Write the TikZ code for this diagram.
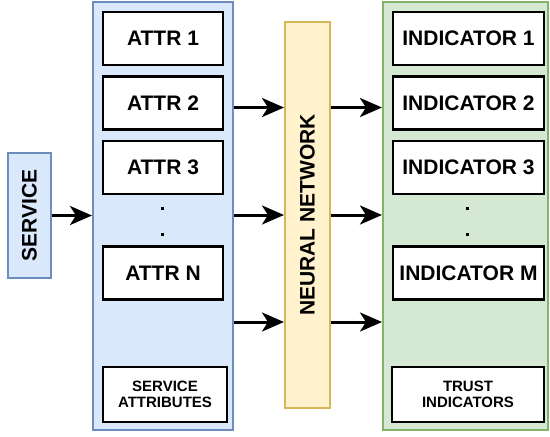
\documentclass[tikz,border=0pt]{standalone}
\usepackage{fontspec}
\setmainfont{Liberation Sans}
\usetikzlibrary{arrows.meta}

\definecolor{blfill}{HTML}{DAE8FC}
\definecolor{bldraw}{HTML}{6C8EBF}
\definecolor{yefill}{HTML}{FFF2CC}
\definecolor{yedraw}{HTML}{D6B656}
\definecolor{grfill}{HTML}{D5E8D4}
\definecolor{grdraw}{HTML}{82B366}

\begin{document}
\begin{tikzpicture}[x=1pt,y=-1pt]
    \tikzstyle{group}=[rectangle,line width=2pt,inner sep=0pt]
    \tikzstyle{label}=[inner sep=0pt,font=\fontsize{21}{23}\selectfont\bfseries]
    \tikzstyle{item}=[rectangle,draw=black,fill=white,line width=2.6pt,minimum height=53pt,inner sep=0pt,font=\fontsize{21}{23}\selectfont\bfseries]
    \tikzstyle{caption}=[rectangle,draw=black,fill=white,line width=2.6pt,minimum height=55pt,inner sep=0pt,align=center,font=\fontsize{15}{16.5}\selectfont\bfseries]
    \tikzstyle{dot}=[rectangle,fill=black,inner sep=0pt,minimum size=3pt]
    \tikzstyle{flow}=[line width=3pt,-{Stealth[length=22pt,width=19pt,inset=6pt]}]

    \useasboundingbox (0,0) rectangle (550,437);

    \node (service)[group,fill=blfill,draw=bldraw,minimum width=43pt,minimum height=125pt] at (29.5,215.5) {};
    \node (servicetext)[label,rotate=90] at (service.center) {SERVICE};

    \node (attrs)[group,fill=blfill,draw=bldraw,minimum width=140pt,minimum height=428pt] at (163,216) {};
    \node (a1)[item,minimum width=120pt] at (163,38.5) {ATTR 1};
    \node (a2)[item,minimum width=120pt] at (163,103) {ATTR 2};
    \node (a3)[item,minimum width=120pt] at (163,167.5) {ATTR 3};
    \node (adot1)[dot] at (162.5,208) {};
    \node (adot2)[dot] at (162.5,234) {};
    \node (an)[item,minimum width=120pt] at (163,273) {ATTR N};
    \node (acap)[caption,minimum width=124pt] at (165,394.5) {SERVICE\\ATTRIBUTES};

    \node (nn)[group,fill=yefill,draw=yedraw,minimum width=45pt,minimum height=386pt] at (307.5,215) {};
    \node (nntext)[label,rotate=90] at (nn.center) {NEURAL NETWORK};

    \node (inds)[group,fill=grfill,draw=grdraw,minimum width=165pt,minimum height=428pt] at (465.5,216) {};
    \node (i1)[item,minimum width=151pt] at (468.5,38.5) {INDICATOR 1};
    \node (i2)[item,minimum width=151pt] at (468.5,103) {INDICATOR 2};
    \node (i3)[item,minimum width=151pt] at (468.5,167.5) {INDICATOR 3};
    \node (idot1)[dot] at (467.5,208) {};
    \node (idot2)[dot] at (467.5,234) {};
    \node (im)[item,minimum width=151pt] at (468.5,273) {INDICATOR M};
    \node (icap)[caption,minimum width=152pt] at (468,394.5) {TRUST\\INDICATORS};

    \coordinate (r1) at (0,107.5);
    \coordinate (r2) at (0,215);
    \coordinate (r3) at (0,322);

    % service -> attributes
    \draw[flow] (service.east) -- (attrs.west |- service.east);

    % attributes -> network -> indicators
    \draw[flow] (attrs.east |- r1) -- (nn.west |- r1);
    \draw[flow] (attrs.east |- r2) -- (nn.west |- r2);
    \draw[flow] (attrs.east |- r3) -- (nn.west |- r3);
    \draw[flow] (nn.east |- r1) -- (inds.west |- r1);
    \draw[flow] (nn.east |- r2) -- (inds.west |- r2);
    \draw[flow] (nn.east |- r3) -- (inds.west |- r3);
\end{tikzpicture}
\end{document}
